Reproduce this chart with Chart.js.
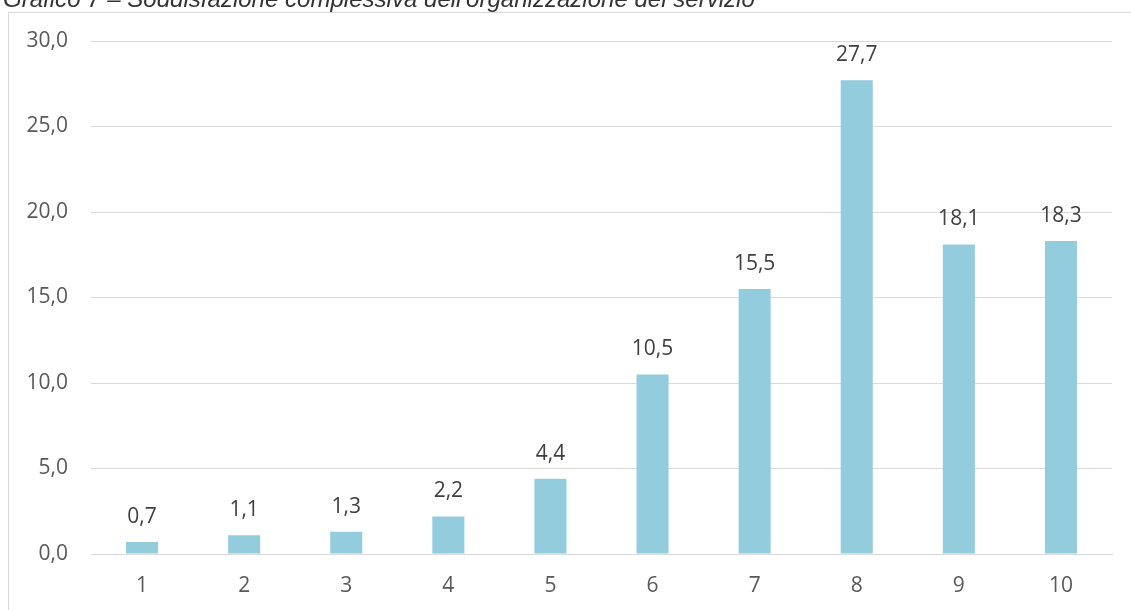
<!DOCTYPE html>
<html>
<head>
<meta charset="utf-8">
<script src="https://cdn.jsdelivr.net/npm/chart.js@4"></script>
<style>
html,body{margin:0;padding:0;background:#fff;}
canvas{display:block;}
</style>
</head>
<body>
<canvas id="c" width="1131" height="610"></canvas>
<script>
const titleText = "Grafico 7 – Soddisfazione complessiva dell'organizzazione del servizio";
const categories = ["1","2","3","4","5","6","7","8","9","10"];
const values = [0.7, 1.1, 1.3, 2.2, 4.4, 10.5, 15.5, 27.7, 18.1, 18.3];
const yMin = 0, yMax = 30, yStep = 5;

const fmt = v => v.toFixed(1).replace('.', ',');
const FONT = "'Open Sans', sans-serif";

const framePlugin = {
  id: 'frame',
  beforeDraw(chart) {
    const ctx = chart.ctx;
    ctx.save();
    ctx.fillStyle = '#fff';
    ctx.fillRect(0, 0, chart.width, chart.height);
    ctx.strokeStyle = '#d9d9d9';
    ctx.lineWidth = 1;
    ctx.strokeRect(8.5, 12.5, 1300, 800);
    // title (cut off at top as in the reference)
    let size = 19;
    ctx.font = 'italic ' + size + 'px "Liberation Sans", Arial, sans-serif';
    const w = ctx.measureText(titleText).width;
    size = size * 752 / w;
    ctx.font = 'italic ' + size.toFixed(2) + 'px "Liberation Sans", Arial, sans-serif';
    ctx.fillStyle = '#333333';
    ctx.textBaseline = 'alphabetic';
    ctx.textAlign = 'left';
    ctx.fillText(titleText, 3, 7);
    ctx.restore();
  }
};

const labelPlugin = {
  id: 'barLabels',
  afterDatasetsDraw(chart) {
    const ctx = chart.ctx;
    const meta = chart.getDatasetMeta(0);
    ctx.save();
    ctx.font = '21px ' + FONT;
    ctx.fillStyle = '#404040';
    ctx.textAlign = 'center';
    ctx.textBaseline = 'middle';
    meta.data.forEach((bar, i) => {
      ctx.fillText(fmt(values[i]), bar.x, bar.y - 25);
    });
    ctx.restore();
  }
};

new Chart(document.getElementById('c'), {
  type: 'bar',
  data: {
    labels: categories,
    datasets: [{
      data: values,
      backgroundColor: '#93cddd',
      borderWidth: 0,
      barPercentage: 0.314,
      categoryPercentage: 1
    }]
  },
  options: {
    responsive: false,
    animation: false,
    layout: { padding: { left: 9, right: 19, top: 41, bottom: 0 } },
    plugins: { legend: { display: false }, tooltip: { enabled: false }, title: { display: false } },
    scales: {
      x: {
        grid: { display: false, drawTicks: false },
        border: { display: true, color: '#d9d9d9', width: 1 },
        ticks: { color: '#595959', font: { family: FONT, size: 21 }, padding: 19, maxRotation: 0 },
        afterFit(s) { s.height = 56; }
      },
      y: {
        min: yMin, max: yMax,
        grid: { color: '#d9d9d9', lineWidth: 1, drawTicks: false },
        border: { display: false },
        ticks: { stepSize: yStep, color: '#595959', font: { family: FONT, size: 21 }, padding: 23,
                 callback: v => fmt(v) },
        afterFit(s) { s.width = 82; }
      }
    }
  },
  plugins: [framePlugin, labelPlugin]
});
</script>
</body>
</html>
